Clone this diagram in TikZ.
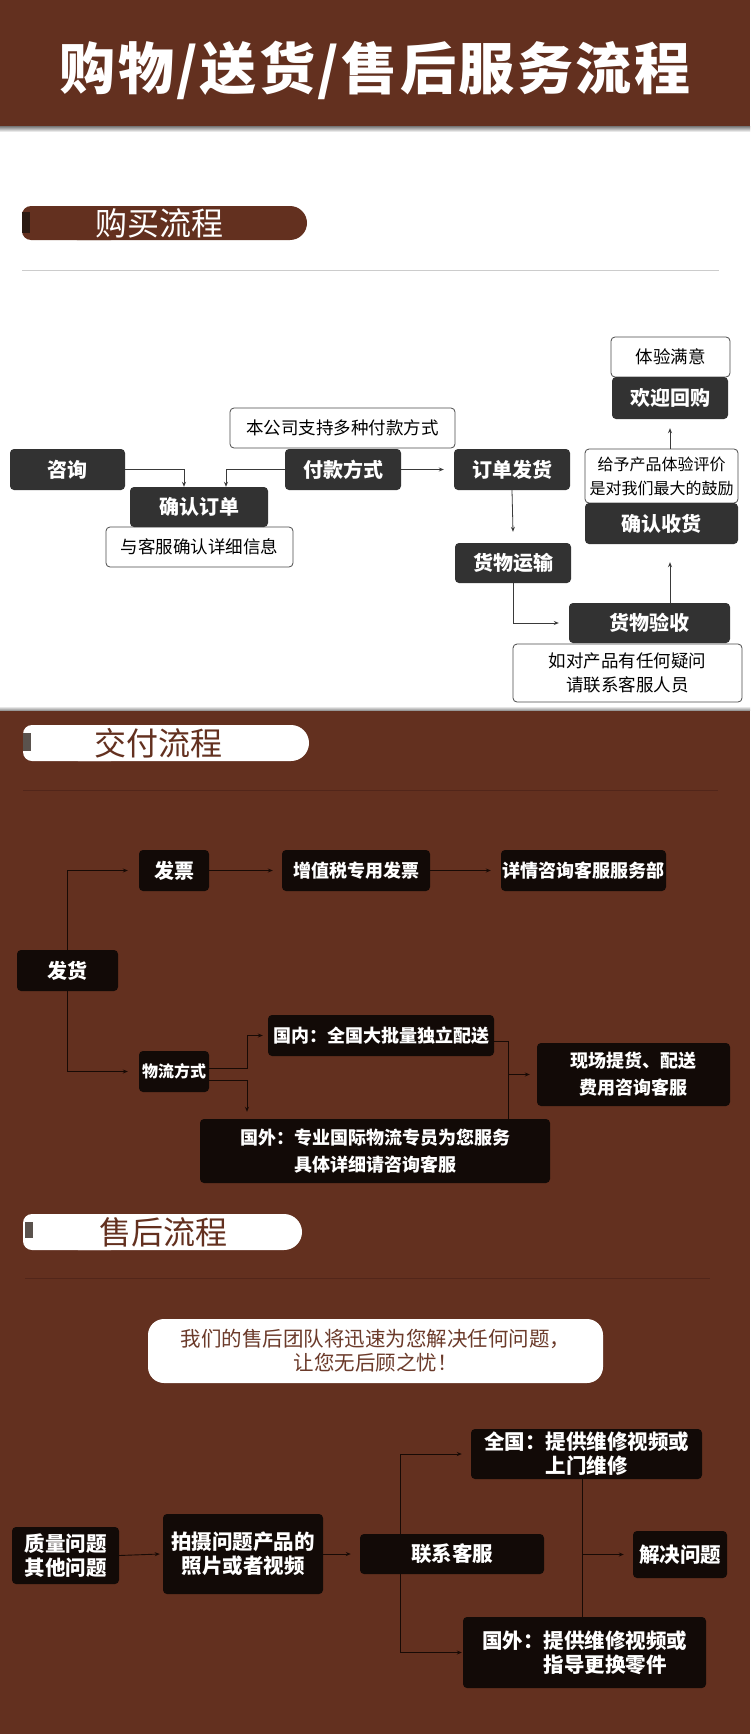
\documentclass[tikz,border=0pt]{standalone}
\usepackage{fontspec}
\setmainfont{Noto Sans CJK SC}
\usetikzlibrary{arrows.meta}
\definecolor{brn}{HTML}{63301F}
\definecolor{pgray}{HTML}{323232}
\definecolor{kblk}{HTML}{120A07}
\definecolor{lnw}{HTML}{3A3A3A}
\definecolor{lnb}{HTML}{180A05}
\definecolor{bord}{HTML}{4A4A4A}
\definecolor{msgtxt}{HTML}{6B3A2A}
\definecolor{divb}{HTML}{52261A}
\definecolor{tabd}{HTML}{2B1A12}
\definecolor{tabg}{HTML}{5A524D}
\newcommand\tk{\hspace{2.5pt}}
\begin{document}
\begin{tikzpicture}[x=1pt,y=-1pt,
 sz/.style 2 args={minimum width=#1pt,minimum height=#2pt},
 dbox/.style={fill=pgray,rounded corners=4pt,text=white,inner sep=0pt,align=center,font=\bfseries\fontsize{20}{24}\selectfont},
 wbox/.style={fill=white,draw=bord,line width=0.8pt,rounded corners=4pt,text=black,inner sep=0pt,align=center,font=\fontsize{17.5}{24}\selectfont},
 kbox/.style={fill=kblk,rounded corners=4pt,text=white,inner sep=0pt,align=center,font=\bfseries\fontsize{18}{27}\selectfont},
 abox/.style={kbox,font=\bfseries\fontsize{20.5}{24}\selectfont},
 warr/.style={draw=lnw,line width=0.8pt,-{Stealth[length=5pt,width=4pt]}},
 barr/.style={draw=lnb,line width=0.9pt,-{Stealth[length=5pt,width=4pt]}},
 bln/.style={draw=lnb,line width=0.9pt},
 pilltxt/.style={font=\fontsize{32}{32}\selectfont,inner sep=0pt}
]
% backgrounds
\fill[white] (0,0) rectangle (750,1734);
\fill[brn] (0,0) rectangle (750,127);
\shade[top color=black!45,bottom color=white] (0,127) rectangle (750,132);
\fill[brn] (0,710) rectangle (750,1734);
\shade[top color=white,bottom color=black!40] (0,706) rectangle (750,710);

% title
\node[text=white,inner sep=0pt,font=\bfseries\fontsize{56}{60}\selectfont] (title) at (375,70)
 {购\tk 物\tk /\tk 送\tk 货\tk /\tk 售\tk 后\tk 服\tk 务\tk 流\tk 程};

% pill 1
\fill[brn,rounded corners=9pt] (22,206) rectangle (120,240);
\fill[brn,rounded corners=17pt] (60,206) rectangle (307,240);
\fill[tabd] (22,212) rectangle (30,233);
\node[pilltxt,text=white] (h1) at (159,223) {购买流程};
\draw[black!20,line width=1pt] (22,270) -- (719,270);

% pill 2
\fill[white,rounded corners=9pt] (23,725) rectangle (120,761);
\fill[white,rounded corners=18pt] (60,725) rectangle (309,761);
\fill[tabg] (23,733) rectangle (31,751);
\node[pilltxt,text=brn] (h2) at (158.5,743) {交付流程};
\draw[divb,line width=1pt] (23,790) -- (718,790);

% pill 3
\fill[white,rounded corners=9pt] (23,1214) rectangle (120,1250);
\fill[white,rounded corners=18pt] (60,1214) rectangle (302,1250);
\fill[tabg] (25,1222) rectangle (33,1238);
\node[pilltxt,text=brn] (h3) at (163.5,1232) {售后流程};
\draw[divb,line width=1pt] (25,1278) -- (710,1278);

% ---------- purchase flow ----------
\node[wbox,sz={187}{40}] (ykf) at (199.5,547) {与客服确认详细信息};
\node[wbox,sz={225}{40}] (bgs) at (342.5,428) {本公司支持多种付款方式};
\node[wbox,sz={229}{58}] (rdcp) at (627.5,673) {如对产品有任何疑问\\请联系客服人员};
\node[wbox,sz={153}{54},font=\fontsize{16}{24}\selectfont] (gycp) at (661.5,476) {给予产品体验评价\\是对我们最大的鼓励};
\node[wbox,sz={119}{40}] (tymy) at (670.5,357) {体验满意};

\node[dbox,sz={115}{41}] (zx) at (67.5,469.5) {咨询};
\node[dbox,sz={138}{40}] (qrdd) at (199,507) {确认订单};
\node[dbox,sz={116}{41}] (fkfs) at (343,469.5) {付款方式};
\node[dbox,sz={116}{41}] (ddfh) at (512,469.5) {订单发货};
\node[dbox,sz={116}{40}] (hwys) at (513,563) {货物运输};
\node[dbox,sz={161}{40}] (hwyx) at (649.5,623) {货物验收};
\node[dbox,sz={153}{41}] (qrsh) at (661.5,523.5) {确认收货};
\node[dbox,sz={116}{42}] (hyhg) at (670,398) {欢迎回购};

\draw[warr] (zx.east) -| ([xshift=-15pt]qrdd.north);
\draw[warr] (fkfs.west) -| ([xshift=27pt]qrdd.north);
\draw[warr] (fkfs.east) -- ([xshift=-10pt]ddfh.west);
\draw[warr] (ddfh.south) -- ([yshift=11pt]hwys.north);
\draw[warr] (hwys.south) |- ([xshift=-10pt]hwyx.west);
\coordinate (a1) at ([yshift=-18pt]qrsh.south);
\draw[warr] (hwyx.north -| hyhg.south) -- (a1 -| hyhg.south);
\draw[warr] (gycp.north -| hyhg.south) -- ([yshift=-9pt]hyhg.south);

% ---------- delivery flow ----------
\node[kbox,sz={70}{41},font=\bfseries\fontsize{20}{24}\selectfont] (fp) at (174,870.5) {发票};
\node[kbox,sz={148}{41}] (zzs) at (356,870.5) {增值税专用发票};
\node[kbox,sz={165}{41}] (xq) at (583.5,870.5) {详情咨询客服服务部};
\node[kbox,sz={101}{41},font=\bfseries\fontsize{20}{24}\selectfont] (fh) at (67.5,970.5) {发货};
\node[kbox,sz={70}{41},font=\bfseries\fontsize{16}{20}\selectfont] (wlfs) at (174,1071.5) {物流方式};
\node[kbox,sz={226}{41}] (gn) at (381,1035.5) {国内：全国大批量独立配送};
\node[kbox,sz={193}{63}] (xc) at (633.5,1074.5) {现场提货、配送\\费用咨询客服};
\node[kbox,sz={350}{64}] (gw) at (375,1151) {国外：专业国际物流专员为您服务\\具体详细请咨询客服};

\draw[barr] (fh.north) |- ([xshift=-11pt]fp.west);
\draw[barr] (fh.south) |- ([xshift=-11pt]wlfs.west);
\draw[barr] (fp.east) -- ([xshift=-9pt]zzs.west);
\draw[barr] (zzs.east) -- ([xshift=-10pt]xq.west);
\coordinate (w1) at ([xshift=38pt,yshift=3pt]wlfs.east);
\draw[barr] ([yshift=3pt]wlfs.east) -- (w1) |- ([xshift=-5pt]gn.west);
\draw[barr] ([yshift=-9pt]wlfs.east) -| ([xshift=-128pt,yshift=7pt]gw.north);
\coordinate (jn) at ([xshift=133pt]gw.north);
\draw[bln] ([yshift=-6pt]gn.east) -| (jn);
\draw[barr] (jn |- xc.west) -- ([xshift=-7pt]xc.west);

% ---------- after-sales flow ----------
\node[fill=white,rounded corners=16pt,sz={455}{64},inner sep=0pt,align=center,text=msgtxt,font=\fontsize{20.5}{24}\selectfont] (msg) at (375.5,1351) {我们的售后团队将迅速为您解决任何问题，\\让您无后顾之忧！};

\node[abox,sz={107}{57}] (zl) at (65.5,1555.5) {质量问题\\其他问题};
\node[abox,sz={160}{80}] (ps) at (243,1554) {拍摄问题产品的\\照片或者视频};
\node[abox,sz={184}{40}] (lx) at (452,1554) {联系客服};
\node[abox,sz={231}{50},align=left] (qg) at (586.5,1454) {全国：提供维修视频或\\\phantom{全国：}上门维修};
\node[abox,sz={94}{47}] (jj) at (680,1554.5) {解决问题};
\node[abox,sz={243}{71},align=left] (gw2) at (584.5,1652.5) {国外：提供维修视频或\\\phantom{国外：}指导更换零件};

\draw[barr] (zl.east) -- ([xshift=-3pt]ps.west);
\draw[barr] (ps.east) -- ([xshift=-9pt]lx.west);
\draw[barr] ([xshift=-52pt]lx.north) |- ([xshift=-9pt]qg.west);
\draw[barr] ([xshift=-52pt]lx.south) |- ([xshift=-1pt]gw2.west);
\coordinate (j2) at ([xshift=-4.5pt]qg.south);
\draw[bln] (j2) -- (j2 |- gw2.north);
\draw[barr] (j2 |- jj.west) -- ([xshift=-9pt]jj.west);
\end{tikzpicture}
\end{document}
